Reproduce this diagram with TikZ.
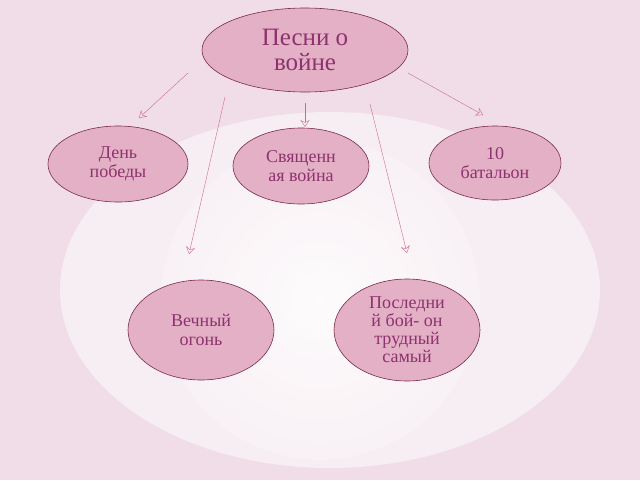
\documentclass[tikz,border=0pt]{standalone}
\usepackage{fontspec}
\setmainfont{Liberation Serif}
\definecolor{bgpink}{RGB}{240,221,231}
\definecolor{nodefill}{RGB}{227,176,197}
\definecolor{nodeline}{RGB}{122,42,74}
\definecolor{txt}{RGB}{140,50,110}
\definecolor{arr}{RGB}{205,105,145}
\tikzset{
	topic/.style={ellipse, draw=nodeline, fill=nodefill, semithick, text=txt, align=center, inner sep=0pt},
	link/.style={draw=arr, -{Stealth[open, length=7pt, width=9pt]}}
}
\usetikzlibrary{shapes.geometric,arrows.meta}
\begin{document}
\begin{tikzpicture}[x=1pt,y=-1pt]
	% background
	\fill[bgpink] (0,0) rectangle (640,480);
	\fill[white, opacity=0.5] (330,290) ellipse (270 and 178);
	\shade[inner color=white, outer color=white!60!bgpink, opacity=0.8] (320,300) ellipse (160 and 160);
	\useasboundingbox (0,0) rectangle (640,480);
	
	\node[topic, minimum width=206, minimum height=84, font=\fontsize{25}{25}\selectfont] (song) at (305,50) {Песни о\\войне};
	\node[topic, minimum width=140, minimum height=76, font=\fontsize{18}{19}\selectfont] (day) at (118,164) {День\\победы};
	\node[topic, minimum width=136, minimum height=76, font=\fontsize{18}{19}\selectfont] (holy) at (301,166) {Священн\\ая война};
	\node[topic, minimum width=132, minimum height=74, font=\fontsize{18}{19}\selectfont] (bat) at (495,163) {10\\батальон};
	\node[topic, minimum width=146, minimum height=100, font=\fontsize{18}{19}\selectfont] (fire) at (201,330) {Вечный\\огонь};
	\node[topic, minimum width=146, minimum height=102, font=\fontsize{18}{18}\selectfont] (last) at (407,330) {Последни\\й бой- он\\трудный\\самый};
	
	% arrows
	\coordinate (a1) at (188,73);
	\coordinate (a2) at (225,97);
	\coordinate (a3) at (305,103);
	\coordinate (a4) at (370,104);
	\coordinate (a5) at (408,73);
	\coordinate (b1) at (139,118);
	\coordinate (b2) at (189,254);
	\coordinate (b3) at (305,127);
	\coordinate (b4) at (407,253);
	\coordinate (b5) at (483,115);
	\foreach \i in {1,...,5}
		\draw[link] (a\i) -- (b\i);
\end{tikzpicture}
\end{document}
